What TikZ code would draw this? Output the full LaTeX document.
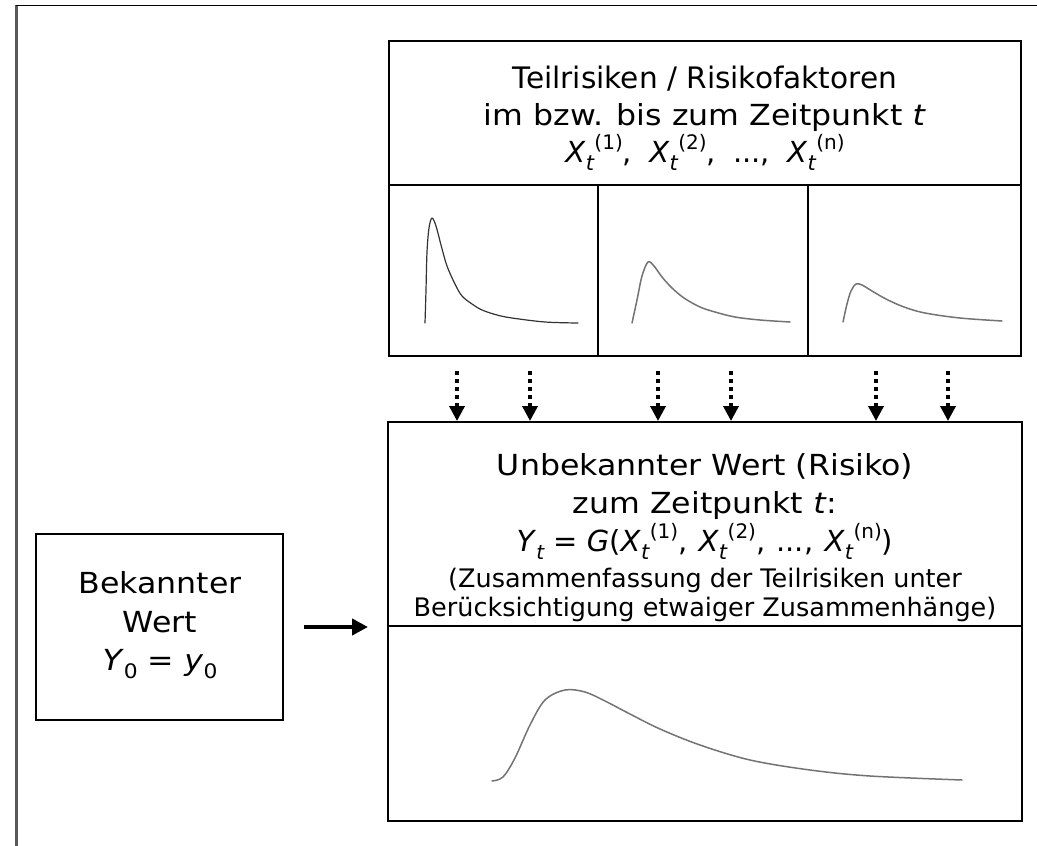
\documentclass[tikz,border=0pt]{standalone}
\usepackage{fontspec}
\setmainfont{DejaVu Sans}
\newfontfamily\wide{DejaVu Sans}[FakeStretch=1.09]
\usetikzlibrary{arrows.meta}

% variable with subscript and superscript, e.g. X_t^{(1)}
\newcommand\subsup[3]{\textit{#1}\raisebox{-0.28em}{\fontsize{21}{21}\selectfont\itshape #2}\raisebox{0.42em}{\fontsize{20}{20}\selectfont\kern0.5pt #3}}
\newcommand\subonly[2]{#1\raisebox{-0.28em}{\fontsize{20}{20}\selectfont #2}}

\begin{document}
\begin{tikzpicture}[x=1pt,y=-1pt,
  box/.style={draw=black,line width=2pt,inner sep=0pt},
  big/.style={inner sep=0pt,anchor=base,font=\wide\fontsize{29}{37}\selectfont},
  bigmath/.style={inner sep=0pt,anchor=base,font=\fontsize{29}{37}\selectfont},
  small/.style={inner sep=0pt,anchor=base,font=\fontsize{25.5}{30}\selectfont},
  curve/.style={line width=1.5pt,draw=black!55,line cap=round,line join=round},
  darr/.style={line width=3.5pt,dash pattern=on 4pt off 4pt,shorten <=14pt,
    -{Triangle[width=15pt,length=15pt]}},
  harr/.style={line width=4pt,shorten <=20pt,shorten >=19pt,
    -{Triangle[width=16pt,length=16pt]}}]
\useasboundingbox (0,0) rectangle (1037,846);

% page frame
\draw[black!65,line width=2.5pt] (16.5,846) -- (16.5,4.5);
\draw[black,line width=1.5pt] (15.5,5.5) -- (1037,5.5);

% upper block: header and three panels
\node[box,minimum width=632pt,minimum height=144pt] (risk) at (705,113) {};
\node[box,minimum width=209pt,minimum height=171pt] (p1) at (493.5,270.5) {};
\node[box,minimum width=210pt,minimum height=171pt] (p2) at (703,270.5) {};
\node[box,minimum width=213pt,minimum height=171pt] (p3) at (914.5,270.5) {};

% lower block: header and panel
\node[box,minimum width=634pt,minimum height=204pt] (val) at (705,524) {};
\node[box,minimum width=634pt,minimum height=195pt] (dist) at (705,723.5) {};

% left block
\node[box,minimum width=247pt,minimum height=186pt] (known) at (159.5,627) {};

% texts of the upper header
\node[bigmath,font=\fontsize{29.6}{37}\selectfont] (r1) at (705,88.5) {Teilrisiken / Risikofaktoren};
\node[big] (r2) at (705,125.5) {im bzw. bis zum Zeitpunkt \textit{t}};
\node[bigmath] (r3) at (705,162) {\subsup{X}{t}{(1)}, \hspace{8pt}\subsup{X}{t}{(2)}, \hspace{8pt}..., \hspace{8pt}\subsup{X}{t}{(n)}};

% texts of the lower header
\node[big] (v1) at (705,475) {Unbekannter Wert (Risiko)};
\node[big] (v2) at (705,513) {zum Zeitpunkt \textit{t}:};
\node[bigmath] (v3) at (705,551) {\subonly{\textit{Y}}{\itshape t} = \textit{G}(\subsup{X}{t}{(1)}, \hspace{2pt}\subsup{X}{t}{(2)}, \hspace{2pt}..., \hspace{2pt}\subsup{X}{t}{(n)})};
\node[small] (v4) at (705,587) {(Zusammenfassung der Teilrisiken unter};
\node[small] (v5) at (705,616) {Berücksichtigung etwaiger Zusammenhänge)};

% texts of the left block
\node[big] (k1) at (160,593) {Bekannter};
\node[big] (k2) at (160,632) {Wert};
\node[big] (k3) at (160,670) {\subonly{\textit{Y}}{0} = \subonly{\textit{y}}{0}};

% distribution curves
\draw[curve,draw=black!80,line width=1.2pt] plot[smooth,tension=0.55] coordinates {
  (425,323) (426,290) (427,252) (429,228) (432,218) (436,226) (441,245)
  (447,266) (455,284) (462,296) (472,304) (482,310) (497,315) (512,318)
  (545,322) (578,323)};
\draw[curve] plot[smooth,tension=0.55] coordinates {
  (632,323) (637,300) (642,276) (648,262) (654,266) (662,277) (672,288)
  (684,298) (700,307) (715,312) (735,317) (760,320) (790,322)};
\draw[curve] plot[smooth,tension=0.55] coordinates {
  (843,322) (847,304) (851,291) (856,284) (862,285) (872,291) (886,299)
  (904,307) (925,313) (960,318) (1002,321)};
\draw[curve] plot[smooth,tension=0.55] coordinates {
  (492,781) (503,777) (515,758) (530,725) (545,700) (565,690) (585,692)
  (605,701) (630,714) (660,729) (700,745) (750,760) (810,770) (870,776)
  (962,780)};

% dotted arrows from the panels into the lower header
\coordinate (s1) at ([xshift=-36.5pt]p1.south);
\coordinate (s2) at ([xshift=36.5pt]p1.south);
\coordinate (s3) at ([xshift=-45pt]p2.south);
\coordinate (s4) at ([xshift=28pt]p2.south);
\coordinate (s5) at ([xshift=-38.5pt]p3.south);
\coordinate (s6) at ([xshift=33.5pt]p3.south);
\foreach \s in {s1,s2,s3,s4,s5,s6}
  \draw[darr] (\s) -- (\s |- val.north);

% arrow from the known value to the unknown value
\draw[harr] (known.east) -- (known.east -| val.west);
\end{tikzpicture}
\end{document}
